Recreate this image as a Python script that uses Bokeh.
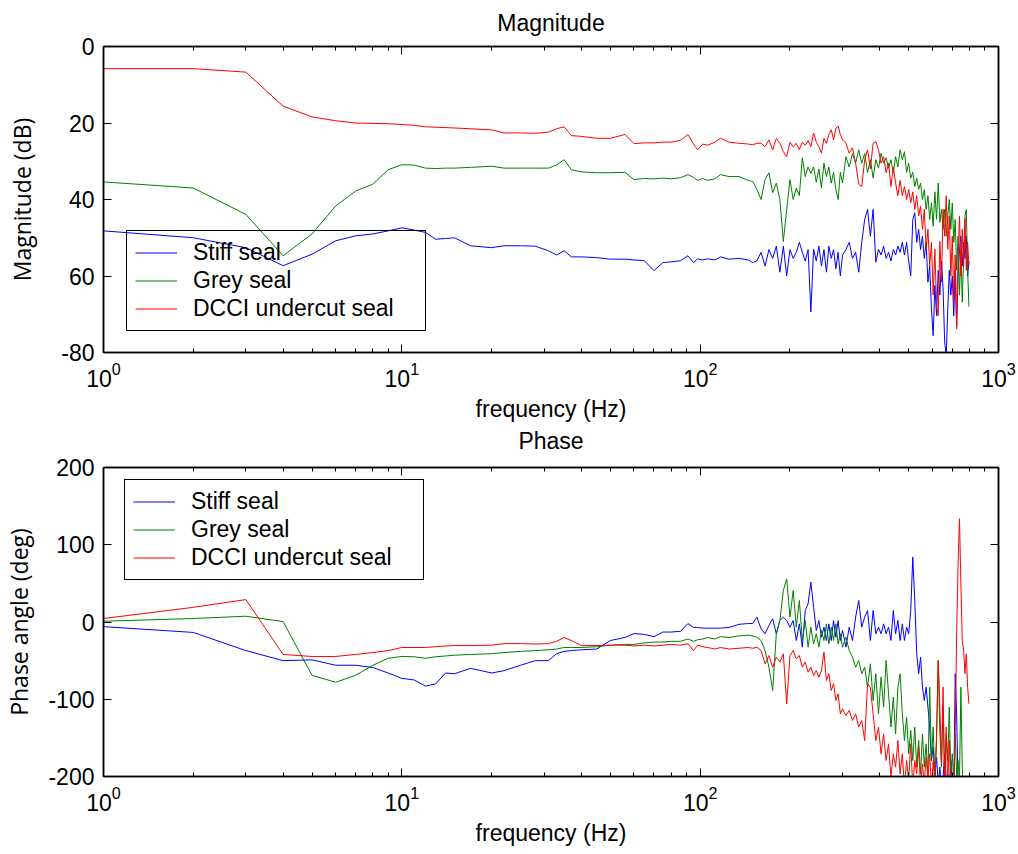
from bokeh.plotting import figure
from bokeh.layouts import column
from bokeh.models import FixedTicker, LogAxis, LinearAxis, Title
from bokeh.embed import file_html
from bokeh.resources import INLINE

# ---------------- data ----------------
freq = [1, 2, 3, 4, 5, 6, 7, 8, 9, 10, 11, 12, 13, 14, 15, 17, 20,
        22, 25, 28, 31, 33, 35, 37, 40, 45, 50, 56, 60, 65, 70, 75, 80, 86, 91, 95, 98,
        102, 106, 112, 117, 125, 135, 145, 150,
        155, 160, 165, 170, 175, 180, 185, 190, 195, 200,
        205, 210, 215, 220, 225, 230, 235, 240, 245, 250,
        255, 260, 265, 270, 275, 280, 285, 290, 295, 300,
        308, 316, 324, 332, 340, 348, 356, 364,
        372, 380, 388, 396, 404, 412, 420, 428,
        436, 444, 452, 460, 468, 476, 484, 492,
        500, 508, 516, 524, 532, 540, 548, 556,
        564, 572, 580, 588, 596, 604, 612, 620,
        628, 636, 644, 652, 660, 668, 676, 684,
        692, 700, 708, 716, 724, 732, 740, 748,
        756, 764, 772, 780, 788, 796]

series_names = ["Stiff seal", "Grey seal", "DCCI undercut seal"]
series_colors = ["#0000ff", "#008000", "#ff0000"]

mag_stiff = [-48.2, -50, -52.6, -57.3, -54.3, -50.8, -49.5, -49, -48.2, -47.4, -48, -48.6, -50.4, -50.2, -50, -52.1, -52.6,
             -52.1, -52.1, -52.2, -53.4, -54.5, -53.4, -55, -55, -55.2, -55.6, -55.6, -55.8, -56, -58.6, -56.5, -56.3, -56, -54.7, -56.5, -55.5,
             -55.8, -55.5, -55.8, -55, -55.6, -55.4, -55.8, -56.5,
             -56, -53.8, -57.4, -53.1, -55.4, -52.2, -59, -52.2, -60, -53.1,
             -55.4, -53.8, -51.2, -53.8, -56.1, -53.1, -69.4, -53, -56.1, -52.2,
             -57.4, -53.1, -59, -52.2, -55.4, -53.1, -58.1, -53.8, -60, -54.5,
             -53.1, -51.2, -55.4, -53.8, -59, -51.2, -45.2, -42.6,
             -49.6, -42.6, -56.4, -53, -54.5, -52.2, -55.4, -53.8,
             -56.1, -53.1, -54.5, -52.2, -53.8, -51.2, -54.5, -51.2,
             -56.1, -60, -45.2, -43.5, -51.2, -47.8, -53.1, -49.6,
             -55.4, -51.2, -61.6, -57.4, -68.6, -75.6, -62.5, -70.4,
             -58.5, -65, -56.1, -63.4, -77.2, -81, -68.6, -58.5,
             -65, -60, -70.4, -58.5, -73, -60, -53.1, -49.6,
             -57.4, -51.2, -55.4, -49.6, -60, -56.1]

mag_grey = [-35.4, -37, -43.9, -54.7, -49, -41.7, -37.8, -36, -32.2, -30.9, -31, -31.8, -31.9, -31.8, -31.8, -31.6, -31.3,
            -31.8, -31.8, -31.8, -31.8, -31, -29.6, -32.2, -32.8, -33, -33, -32.9, -34.8, -34.5, -34.6, -34.4, -34.6, -34.3, -33.5, -34.2, -35,
            -34.5, -35, -34.6, -33.5, -34, -34, -35, -35.3,
            -37.4, -40, -34.8, -33, -38.2, -35.7, -40, -51, -42.6, -34.8,
            -40, -37, -39, -29.1, -34, -31.5, -33.2, -31.5, -35.5, -32,
            -37, -30.5, -34, -31.5, -35.7, -32.9, -37.4, -40, -32.9, -35.7,
            -28.8, -31.5, -28, -30.5, -27, -30.5, -28, -33,
            -29.6, -34.4, -29.6, -31.8, -27.9, -30.5, -29.1, -31.8,
            -29.6, -33, -28.8, -31.5, -27, -29.6, -27.5, -32.9,
            -30.5, -34.4, -32.9, -36.6, -34.4, -37.4, -35.7, -40,
            -37.4, -42.6, -39, -45.2, -40.9, -47, -38, -45.2,
            -35.7, -46, -42.6, -47.8, -42.6, -49.6, -44.3, -40,
            -47.8, -40.9, -51.2, -45.2, -58.5, -49.6, -65, -53,
            -66.8, -55.6, -44.3, -42.6, -58.5, -68]

mag_dcci = [-5.8, -5.8, -6.7, -15.6, -18.4, -19.4, -20, -20.1, -20.2, -20.4, -20.6, -21, -21.1, -21.2, -21.3, -21.5, -21.8,
            -22.6, -22.6, -22.7, -22.4, -21.5, -21, -23.3, -23.5, -24, -24, -23, -25.4, -25.2, -25.2, -25, -25, -24.5, -23, -25.5, -27,
            -25.5, -25.8, -25, -24, -25, -25.3, -25.5, -25.7,
            -25.3, -25.3, -26.2, -24.4, -27, -24, -25.3, -27.5, -28.8, -25,
            -26.2, -25.3, -27, -25, -25.8, -24.6, -26.2, -22.6, -25, -26.2,
            -27.9, -24, -25.3, -23, -21.8, -24.4, -21.4, -20.8, -23, -24.4,
            -25.3, -27.9, -26.5, -30.5, -36, -36.6, -29.6, -27,
            -32, -25.3, -24.9, -27, -30.5, -28.8, -33, -30.5,
            -36.6, -31.5, -35.7, -39, -35, -39, -36.6, -40,
            -37.4, -40.9, -38, -42.6, -39, -44.3, -41.8, -47.8,
            -42.6, -53, -47.8, -57.4, -51.2, -65, -53, -67.8,
            -70.4, -51, -61.6, -42.6, -49.6, -39, -53, -44.3,
            -60, -49.6, -66.8, -54.5, -73.8, -55.6, -44.3, -60,
            -47.8, -57.4, -45, -58.5, -51.2, -57.4]

phase_stiff = [-6, -13.5, -37, -50, -49, -56, -56, -59, -66, -73, -75, -83, -80, -66, -67, -60, -66,
               -63, -56, -50, -50, -41, -38, -37, -36, -35, -24, -20, -15, -16, -19, -13, -13, -12, -2, -7, -7,
               -8, -8, -8, -8, -7, -3, -2, -2,
               6.3, -8.8, -15.3, -4.5, 4.1, -15.3, 1.9, 6.3, 1.9, -6.7,
               1.9, -24, -2.4, -32.6, 14.9, 23.5, 51.6, 19.2, -11, 1.9,
               -19.6, -6.7, -24, -2.4, -24, 1.9, -19.6, 1.9, -24, -11,
               -32.6, -6.7, -24, 6.3, 27.8, -6.7, 6.3, 14.9,
               -23.9, 14.9, -15.3, -6.7, -15.3, -2.4, -15.3, -6.7,
               -23.9, 14.9, -15.3, 2, -23.9, -2.4, -23.9, -6.7,
               -15.3, 14.9, 84, 27.9, -41.2, -67, -45.5, -84.3,
               -101.6, -84.3, -110.2, -136, -179.3, -162, -200.8, -175,
               -209.5, -187.9, -218, -200.8, -170.6, -205, -196.5, -218,
               -179.3, -209.5, -222, -67, -118.9, -213.8, -240, -250,
               -240, -250, -240, -250, -240, -250]

phase_grey = [1, 4.5, 7.5, 0.5, -69, -78, -69, -56, -47, -44.6, -45, -47, -45, -44, -43, -42, -41,
              -39.6, -38, -37, -36, -35, -33, -33, -33, -32, -30, -29, -29, -27, -26, -26, -25, -25, -22, -25, -23,
              -22, -20, -22, -19, -20, -18, -17, -18,
              -19.6, -24, -36.9, -58.5, -88.7, -15.3, 1.9, 40.8, 55.9, 6.3,
              40.8, -6.7, 27.8, -24, 1.9, -32.6, -6.7, -28.3, -15.3, -32.6,
              -11, -24, -2.4, -28.3, -6.7, -24, -2.4, -28.3, -15.3, -32.6,
              -19.6, -36.9, -45.5, -58.5, -49.8, -67, -58.5, -84.3,
              -54.1, -101.6, -67, -118.9, -71.4, -110.2, -49.8, -93,
              -136, -97.3, -144.8, -84.3, -67, -118.9, -153.4, -123.2,
              -170.6, -140.4, -179.3, -136, -187.9, -153.4, -196.5, -144.8,
              -187.9, -157.7, -200.8, -84.3, -179.3, -136, -209.5, -153.4,
              -49.8, -144.8, -187.9, -110.2, -205, -144.8, -179.3, -110.2,
              -196.5, -170.6, -209.5, -144.8, -200.8, -179.3, -205, -84.3,
              -187.9, -231, -250, -260, -250, -260]

phase_dcci = [4.5, 19, 29, -42, -44.6, -44.6, -42, -39.6, -37, -33, -33, -33, -32, -31, -30.5, -30.5, -30,
              -28, -28, -28.5, -28, -25, -20, -24, -30.5, -30.5, -30, -30, -31, -30, -31, -30, -29, -30, -28, -37, -30,
              -32, -33, -35, -33, -35, -34, -33, -34,
              -32.6, -36.9, -54.2, -43.4, -58.5, -45.5, -52, -41.2, -106, -43.4,
              -36.9, -47.7, -43.4, -58.5, -52, -65, -58.5, -69.3, -62.8, -71.4,
              -62.8, -39, -75.7, -67, -88.7, -80, -101.6, -93, -118.9, -112.4,
              -121, -114.6, -127.5, -118.9, -136, -127.5, -153.4, -80,
              -85, -118.9, -153.4, -136, -170.6, -144.8, -179.3, -157.7,
              -200.8, -170.6, -187.9, -153.4, -196.5, -170.6, -213.8, -179.3,
              -205, -157.7, -213.8, -179.3, -196.5, -162, -213.8, -183.6,
              -209.5, -175, -200.8, -170.6, -213.8, -179.3, -209.5, -144.8,
              -50, -110.2, -183.6, -84.3, -213.8, -136, -209.5, -153.4,
              -218, -196.5, -213.8, -144.8, -15.3, 75.3, 133.6, 49.4,
              -23.9, -36.9, -67, -41.2, -84.3, -106]

x_major = [1, 10, 100, 1000]
x_minor = [2, 3, 4, 5, 6, 7, 8, 9, 20, 30, 40, 50, 60, 70, 80, 90,
           200, 300, 400, 500, 600, 700, 800, 900]
mag_ticks = [-80, -60, -40, -20, 0]
mag_tick_labels = ["-80", "60", "40", "20", "0"]
phase_ticks = [-200, -100, 0, 100, 200]
phase_tick_labels = ["-200", "-100", "0", "100", "200"]

FONT = "Liberation Sans"
LABEL_FONT = "Open Sans"
FS = "23px"


def style_axis(ax, labels=True):
    ax.axis_line_color = "black"
    ax.axis_line_width = 1.5
    ax.major_tick_in = 8
    ax.major_tick_out = 0
    ax.minor_tick_in = 4
    ax.minor_tick_out = 0
    ax.major_tick_line_color = "black"
    ax.minor_tick_line_color = "black"
    ax.major_label_text_font = FONT
    if labels:
        ax.major_label_text_color = "black"
        ax.major_label_text_font_size = FS
        ax.major_label_standoff = 9
    else:
        ax.major_label_text_alpha = 0
        ax.major_label_text_font_size = "1px"
        ax.major_label_standoff = 0
    ax.axis_label_text_font_style = "normal"
    ax.axis_label_text_color = "black"


def style_title(t, standoff):
    t.align = "center"
    t.text_font = FONT
    t.text_font_size = FS
    t.text_font_style = "normal"
    t.text_color = "black"
    t.standoff = standoff


def make_panel(ys, yticks, ylabels, ylabel, ylim, height, btop, bbot, lab_standoff, leg_loc):
    p = figure(width=1018, height=height, x_axis_type="log", x_range=(1, 1000), y_range=ylim,
               output_backend="svg", toolbar_location=None,
               min_border_left=103, min_border_right=20, min_border_top=btop, min_border_bottom=bbot)
    p.background_fill_color = "white"
    p.border_fill_color = "white"
    p.outline_line_color = "black"
    p.outline_line_width = 1.5
    p.xgrid.visible = False
    p.ygrid.visible = False

    xt = FixedTicker(ticks=x_major, minor_ticks=x_minor)
    yt = FixedTicker(ticks=yticks, minor_ticks=[])
    over = {t: l for t, l in zip(yticks, ylabels)}

    xa = p.xaxis[0]
    xa.ticker = xt
    style_axis(xa)
    xa.axis_label = "frequency (Hz)"
    xa.axis_label_text_font = FONT
    xa.axis_label_text_font_size = FS
    xa.axis_label_standoff = 6

    ya = p.yaxis[0]
    ya.ticker = yt
    ya.major_label_overrides = over
    style_axis(ya)
    ya.axis_label = ylabel
    ya.axis_label_text_font = LABEL_FONT
    ya.axis_label_text_font_size = FS
    ya.axis_label_standoff = lab_standoff

    top = LogAxis(ticker=xt)
    style_axis(top, labels=False)
    p.add_layout(top, "above")
    right = LinearAxis(ticker=yt)
    style_axis(right, labels=False)
    p.add_layout(right, "right")

    for vals, name, col in zip(ys, series_names, series_colors):
        p.line(freq, vals, line_color=col, line_width=1, legend_label=name)

    lg = p.legend[0]
    lg.location = leg_loc
    lg.background_fill_alpha = 0
    lg.border_line_color = "black"
    lg.border_line_alpha = 1
    lg.border_line_width = 1.5
    lg.label_text_font = FONT
    lg.label_text_font_size = FS
    lg.label_text_color = "black"
    lg.glyph_width = 42
    lg.glyph_height = 25
    lg.label_height = 25
    lg.label_width = 224
    lg.label_standoff = 16
    lg.padding = 8
    lg.spacing = 1
    lg.margin = 0
    return p


# top panel: Magnitude (its lower border also carries the "Phase" heading of the panel below)
p1 = make_panel([mag_stiff, mag_grey, mag_dcci], mag_ticks, mag_tick_labels,
                "Magnitude (dB)", (-80, 0), 455, 46, 101, 20, (23, 21))
p1.title.text = "Magnitude"
style_title(p1.title, 18)
p1.title.vertical_align = "top"
phase_title = Title(text="Phase")
style_title(phase_title, 3)
p1.add_layout(phase_title, "below")

p2 = make_panel([phase_stiff, phase_grey, phase_dcci], phase_ticks, phase_tick_labels,
                "Phase angle (deg)", (-200, 200), 399, 12, 78, 10, (21, 196))

layout = column(p1, p2, spacing=0)
open("out.html", "w").write(file_html(layout, INLINE))
